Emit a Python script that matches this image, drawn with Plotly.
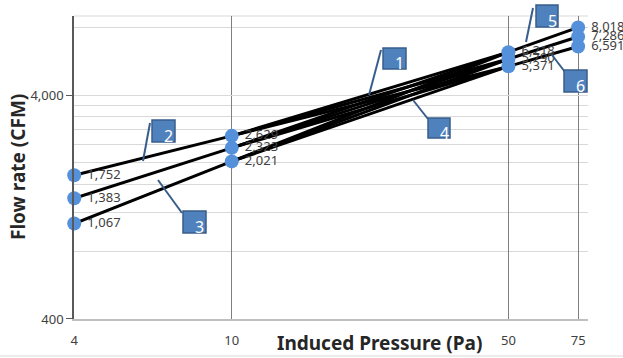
import itertools
import plotly.graph_objects as go

# Induced pressure (Pa) at which each flow was measured
pressures = [4, 10, 50, 75]

# Flow rate (CFM) for three tests, one value per pressure
flow_high = [1752, 2629, 6218, 8018]
flow_mid = [1383, 2323, 5790, 7286]
flow_low = [1067, 2021, 5371, 6591]
tests = [flow_high, flow_mid, flow_low]

x_ticks = [4, 10, 50, 75]
x_tick_text = ["4", "10", "50", "75"]
y_ticks = [400, 4000]
y_tick_text = ["400", "4,000"]
y_minor = [800, 1200, 1600, 2000, 2400, 2800, 3200, 3600, 8000]

callout_numbers = ["1", "2", "3", "4", "5", "6"]

FONT = "Noto Sans"
LINE = "black"
MARKER = "#5590DA"
BOX_FILL = "#4F81BD"
BOX_EDGE = "#385D8A"

# plot-area geometry in pixels
L, R, T, B = 74, 588, 16, 319
W, H = 623, 358


def px(xp):
    return (xp - L) / (R - L)


def py(yp):
    return (B - yp) / (B - T)


fig = go.Figure()

segments = []
# low-pressure segments: each test from 4 Pa to 10 Pa
for f in tests:
    segments.append(((pressures[0], f[0]), (pressures[1], f[1])))
# mid range: every 10 Pa reading joined to every 50 Pa reading
for a, b in itertools.product(tests, tests):
    segments.append(((pressures[1], a[1]), (pressures[2], b[2])))
# high-pressure segments: each test from 50 Pa to 75 Pa
for f in tests:
    segments.append(((pressures[2], f[2]), (pressures[3], f[3])))

for (x0, y0), (x1, y1) in segments:
    fig.add_trace(go.Scatter(
        x=[x0, x1], y=[y0, y1], mode="lines",
        line=dict(color=LINE, width=3), hoverinfo="skip", showlegend=False,
        cliponaxis=False,
    ))

for f in tests:
    fig.add_trace(go.Scatter(
        x=pressures, y=f, mode="markers+text",
        marker=dict(color=MARKER, size=14),
        text=[f" {v:,}" for v in f], textposition="middle right",
        textfont=dict(family=FONT, size=13, color="#404040"),
        cliponaxis=False, showlegend=False,
    ))

shapes = []
annotations = []

# numbered callout boxes with leader lines
callouts = [
    # (box x0, y0, x1, y1, leader from, leader to)
    ((383, 48, 406, 69), (381, 50), (369, 95)),
    ((152, 120, 175, 142), (150, 123), (143, 161)),
    ((183, 211, 206, 233), (182, 213), (158, 180)),
    ((428, 118, 450, 138), (428, 119), (413, 100)),
    ((536, 5, 558, 27), (533, 8), (526, 42)),
    ((564, 70, 587, 92), (565, 72), (552, 55)),
]
for num, ((bx0, by0, bx1, by1), (lx0, ly0), (lx1, ly1)) in zip(callout_numbers, callouts):
    shapes.append(dict(type="line", xref="paper", yref="paper",
                       x0=px(lx0), y0=py(ly0), x1=px(lx1), y1=py(ly1),
                       line=dict(color=BOX_EDGE, width=2), layer="above"))
    shapes.append(dict(type="rect", xref="paper", yref="paper",
                       x0=px(bx0), y0=py(by0), x1=px(bx1), y1=py(by1),
                       fillcolor=BOX_FILL, line=dict(color=BOX_EDGE, width=1.5),
                       layer="above"))
    annotations.append(dict(text=num, xref="paper", yref="paper",
                            x=px((bx0 + bx1) / 2 + 5), y=py((by0 + by1) / 2 + 5),
                            showarrow=False, xanchor="center", yanchor="middle",
                            font=dict(family=FONT, size=16, color="white")))

# top border of the plot area and outer chart border
shapes.append(dict(type="line", xref="paper", yref="paper", x0=0, x1=1, y0=1, y1=1,
                   line=dict(color="#D9D9D9", width=1), layer="below"))
shapes.append(dict(type="line", xref="paper", yref="paper",
                   x0=px(0), x1=px(W), y0=py(356), y1=py(356),
                   line=dict(color="#D9D9D9", width=1)))

annotations.append(dict(text="<b>Induced Pressure (Pa)</b>", xref="paper", yref="paper",
                        x=px(379), y=py(343), showarrow=False,
                        xanchor="center", yanchor="middle",
                        font=dict(family=FONT, size=19, color="#262626")))
annotations.append(dict(text="<b>Flow rate (CFM)</b>", xref="paper", yref="paper",
                        x=px(18), y=py(167), showarrow=False, textangle=-90,
                        xanchor="center", yanchor="middle",
                        font=dict(family=FONT, size=19, color="#262626")))

fig.update_layout(
    width=W, height=H,
    margin=dict(l=L, r=W - R, t=T, b=H - B, autoexpand=False),
    paper_bgcolor="white", plot_bgcolor="white",
    shapes=shapes, annotations=annotations,
    xaxis=dict(
        type="log", range=[0.6015, 1.9], tickvals=x_ticks, ticktext=x_tick_text,
        showgrid=True, gridcolor="#7F7F7F", gridwidth=1,
        showline=True, linecolor="#BFBFBF", linewidth=1.5,
        ticks="outside", ticklen=9, tickcolor="rgba(0,0,0,0)", zeroline=False,
        automargin=False,
        tickfont=dict(family=FONT, size=13, color="#404040"),
    ),
    yaxis=dict(
        type="log", range=[2.6018, 3.955], tickvals=y_ticks, ticktext=y_tick_text,
        showgrid=True, gridcolor="#D9D9D9", gridwidth=1,
        showline=True, linecolor="#595959", linewidth=1.5,
        ticks="outside", ticklen=6, tickcolor="#595959",
        minor=dict(tickvals=y_minor, showgrid=True, gridcolor="#D9D9D9", gridwidth=1, ticks=""),
        zeroline=False, automargin=False,
        tickfont=dict(family=FONT, size=13, color="#404040"),
    ),
)

fig.write_html("out.html")
